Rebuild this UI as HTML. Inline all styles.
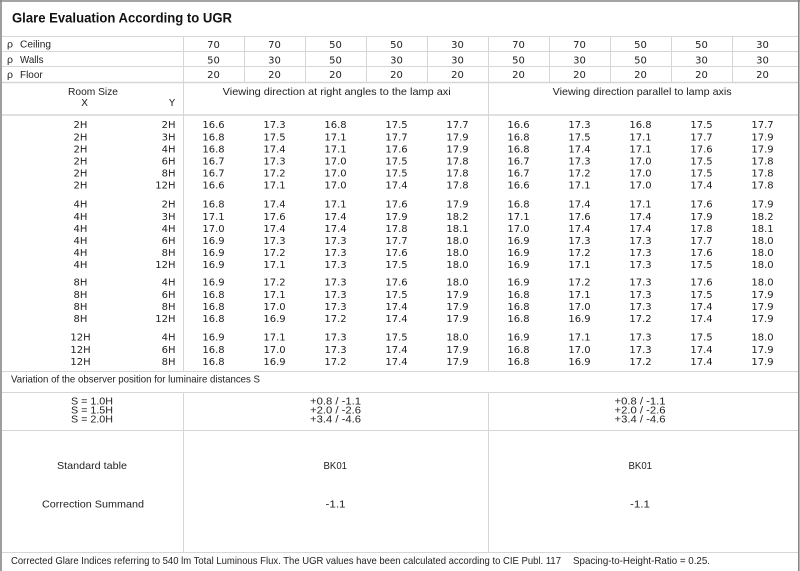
<!DOCTYPE html>
<html>
<head>
<meta charset="utf-8">
<style>
html,body{margin:0;padding:0;background:#fff;}
svg{display:block;}
.l{font-family:"Liberation Sans","DejaVu Sans",sans-serif;font-size:10.5px;fill:#1f1f1f;}
.n{font-family:"DejaVu Sans","Liberation Sans",sans-serif;font-size:10px;fill:#1f1f1f;text-anchor:middle;}
.x{font-family:"DejaVu Sans","Liberation Sans",sans-serif;font-size:10px;fill:#1f1f1f;text-anchor:middle;}
.y{font-family:"DejaVu Sans","Liberation Sans",sans-serif;font-size:10px;fill:#1f1f1f;text-anchor:end;}
</style>
</head>
<body>
<svg width="800" height="571" viewBox="0 0 800 571" xmlns="http://www.w3.org/2000/svg">
<rect width="800" height="571" fill="#fff"/>
<!-- grid -->
<g stroke="#d6d6d6" stroke-width="1" fill="none">
<line x1="2" y1="36.5" x2="798" y2="36.5"/>
<line x1="2" y1="51.5" x2="798" y2="51.5"/>
<line x1="2" y1="66.5" x2="798" y2="66.5"/>
<line x1="2" y1="82.5" x2="798" y2="82.5" stroke-width="1.5"/>
<line x1="2" y1="115" x2="798" y2="115" stroke-width="2" stroke="#e0e0e0"/>
<line x1="2" y1="371.5" x2="798" y2="371.5"/>
<line x1="2" y1="392.5" x2="798" y2="392.5"/>
<line x1="2" y1="430.5" x2="798" y2="430.5"/>
<line x1="2" y1="552.5" x2="798" y2="552.5"/>
<line x1="183.5" y1="36" x2="183.5" y2="371"/>
<line x1="183.5" y1="392" x2="183.5" y2="552"/>
<line x1="488.5" y1="36" x2="488.5" y2="371"/>
<line x1="488.5" y1="392" x2="488.5" y2="552"/>
<line x1="244.5" y1="36" x2="244.5" y2="82"/>
<line x1="305.5" y1="36" x2="305.5" y2="82"/>
<line x1="366.5" y1="36" x2="366.5" y2="82"/>
<line x1="427.5" y1="36" x2="427.5" y2="82"/>
<line x1="549.5" y1="36" x2="549.5" y2="82"/>
<line x1="610.5" y1="36" x2="610.5" y2="82"/>
<line x1="671.5" y1="36" x2="671.5" y2="82"/>
<line x1="732.5" y1="36" x2="732.5" y2="82"/>
</g>
<!-- outer border -->
<g stroke="#858585" stroke-width="1.6">
<line x1="0" y1="1" x2="800" y2="1"/>
<line x1="1" y1="0" x2="1" y2="571"/>
<line x1="798.8" y1="0" x2="798.8" y2="571"/>
</g>

<!-- title -->
<text x="12" y="22.5" font-family="'Liberation Sans','DejaVu Sans',sans-serif" font-weight="bold" font-size="13.5" fill="#111" textLength="220" lengthAdjust="spacingAndGlyphs">Glare Evaluation According to UGR</text>

<!-- reflectance rows -->
<text class="l" x="7" y="47.5">ρ</text>
<text class="l" x="20" y="47.5" textLength="31" lengthAdjust="spacingAndGlyphs">Ceiling</text>
<text class="l" x="7" y="63">ρ</text>
<text class="l" x="20" y="63" textLength="23.5" lengthAdjust="spacingAndGlyphs">Walls</text>
<text class="l" x="7" y="78">ρ</text>
<text class="l" x="20" y="78" textLength="22.7" lengthAdjust="spacingAndGlyphs">Floor</text>

<text class="n" y="47.8"><tspan x="213.5">70</tspan><tspan x="274.5">70</tspan><tspan x="335.5">50</tspan><tspan x="396.5">50</tspan><tspan x="457.5">30</tspan><tspan x="518.5">70</tspan><tspan x="579.5">70</tspan><tspan x="640.5">50</tspan><tspan x="701.5">50</tspan><tspan x="762.5">30</tspan></text>
<text class="n" y="63.3"><tspan x="213.5">50</tspan><tspan x="274.5">30</tspan><tspan x="335.5">50</tspan><tspan x="396.5">30</tspan><tspan x="457.5">30</tspan><tspan x="518.5">50</tspan><tspan x="579.5">30</tspan><tspan x="640.5">50</tspan><tspan x="701.5">30</tspan><tspan x="762.5">30</tspan></text>
<text class="n" y="78"><tspan x="213.5">20</tspan><tspan x="274.5">20</tspan><tspan x="335.5">20</tspan><tspan x="396.5">20</tspan><tspan x="457.5">20</tspan><tspan x="518.5">20</tspan><tspan x="579.5">20</tspan><tspan x="640.5">20</tspan><tspan x="701.5">20</tspan><tspan x="762.5">20</tspan></text>

<!-- header labels -->
<text class="l" x="68" y="95" textLength="50" lengthAdjust="spacingAndGlyphs">Room Size</text>
<text class="x" x="84.5" y="106">X</text>
<text class="x" x="172" y="106">Y</text>
<text class="l" x="222.7" y="95" textLength="228" lengthAdjust="spacingAndGlyphs">Viewing direction at right angles to the lamp axi</text>
<text class="l" x="552.7" y="95" textLength="179" lengthAdjust="spacingAndGlyphs">Viewing direction parallel to lamp axis</text>

<!-- group 1 -->
<text class="x" x="80.5" y="128.2">2H</text><text class="y" x="175.5" y="128.2">2H</text>
<text class="n" y="128.2"><tspan x="213.5">16.6</tspan><tspan x="274.5">17.3</tspan><tspan x="335.5">16.8</tspan><tspan x="396.5">17.5</tspan><tspan x="457.5">17.7</tspan><tspan x="518.5">16.6</tspan><tspan x="579.5">17.3</tspan><tspan x="640.5">16.8</tspan><tspan x="701.5">17.5</tspan><tspan x="762.5">17.7</tspan></text>
<text class="x" x="80.5" y="140.3">2H</text><text class="y" x="175.5" y="140.3">3H</text>
<text class="n" y="140.3"><tspan x="213.5">16.8</tspan><tspan x="274.5">17.5</tspan><tspan x="335.5">17.1</tspan><tspan x="396.5">17.7</tspan><tspan x="457.5">17.9</tspan><tspan x="518.5">16.8</tspan><tspan x="579.5">17.5</tspan><tspan x="640.5">17.1</tspan><tspan x="701.5">17.7</tspan><tspan x="762.5">17.9</tspan></text>
<text class="x" x="80.5" y="152.4">2H</text><text class="y" x="175.5" y="152.4">4H</text>
<text class="n" y="152.4"><tspan x="213.5">16.8</tspan><tspan x="274.5">17.4</tspan><tspan x="335.5">17.1</tspan><tspan x="396.5">17.6</tspan><tspan x="457.5">17.9</tspan><tspan x="518.5">16.8</tspan><tspan x="579.5">17.4</tspan><tspan x="640.5">17.1</tspan><tspan x="701.5">17.6</tspan><tspan x="762.5">17.9</tspan></text>
<text class="x" x="80.5" y="164.5">2H</text><text class="y" x="175.5" y="164.5">6H</text>
<text class="n" y="164.5"><tspan x="213.5">16.7</tspan><tspan x="274.5">17.3</tspan><tspan x="335.5">17.0</tspan><tspan x="396.5">17.5</tspan><tspan x="457.5">17.8</tspan><tspan x="518.5">16.7</tspan><tspan x="579.5">17.3</tspan><tspan x="640.5">17.0</tspan><tspan x="701.5">17.5</tspan><tspan x="762.5">17.8</tspan></text>
<text class="x" x="80.5" y="176.6">2H</text><text class="y" x="175.5" y="176.6">8H</text>
<text class="n" y="176.6"><tspan x="213.5">16.7</tspan><tspan x="274.5">17.2</tspan><tspan x="335.5">17.0</tspan><tspan x="396.5">17.5</tspan><tspan x="457.5">17.8</tspan><tspan x="518.5">16.7</tspan><tspan x="579.5">17.2</tspan><tspan x="640.5">17.0</tspan><tspan x="701.5">17.5</tspan><tspan x="762.5">17.8</tspan></text>
<text class="x" x="80.5" y="188.7">2H</text><text class="y" x="175.5" y="188.7">12H</text>
<text class="n" y="188.7"><tspan x="213.5">16.6</tspan><tspan x="274.5">17.1</tspan><tspan x="335.5">17.0</tspan><tspan x="396.5">17.4</tspan><tspan x="457.5">17.8</tspan><tspan x="518.5">16.6</tspan><tspan x="579.5">17.1</tspan><tspan x="640.5">17.0</tspan><tspan x="701.5">17.4</tspan><tspan x="762.5">17.8</tspan></text>

<!-- group 2 -->
<text class="x" x="80.5" y="207.7">4H</text><text class="y" x="175.5" y="207.7">2H</text>
<text class="n" y="207.7"><tspan x="213.5">16.8</tspan><tspan x="274.5">17.4</tspan><tspan x="335.5">17.1</tspan><tspan x="396.5">17.6</tspan><tspan x="457.5">17.9</tspan><tspan x="518.5">16.8</tspan><tspan x="579.5">17.4</tspan><tspan x="640.5">17.1</tspan><tspan x="701.5">17.6</tspan><tspan x="762.5">17.9</tspan></text>
<text class="x" x="80.5" y="219.8">4H</text><text class="y" x="175.5" y="219.8">3H</text>
<text class="n" y="219.8"><tspan x="213.5">17.1</tspan><tspan x="274.5">17.6</tspan><tspan x="335.5">17.4</tspan><tspan x="396.5">17.9</tspan><tspan x="457.5">18.2</tspan><tspan x="518.5">17.1</tspan><tspan x="579.5">17.6</tspan><tspan x="640.5">17.4</tspan><tspan x="701.5">17.9</tspan><tspan x="762.5">18.2</tspan></text>
<text class="x" x="80.5" y="231.9">4H</text><text class="y" x="175.5" y="231.9">4H</text>
<text class="n" y="231.9"><tspan x="213.5">17.0</tspan><tspan x="274.5">17.4</tspan><tspan x="335.5">17.4</tspan><tspan x="396.5">17.8</tspan><tspan x="457.5">18.1</tspan><tspan x="518.5">17.0</tspan><tspan x="579.5">17.4</tspan><tspan x="640.5">17.4</tspan><tspan x="701.5">17.8</tspan><tspan x="762.5">18.1</tspan></text>
<text class="x" x="80.5" y="244">4H</text><text class="y" x="175.5" y="244">6H</text>
<text class="n" y="244"><tspan x="213.5">16.9</tspan><tspan x="274.5">17.3</tspan><tspan x="335.5">17.3</tspan><tspan x="396.5">17.7</tspan><tspan x="457.5">18.0</tspan><tspan x="518.5">16.9</tspan><tspan x="579.5">17.3</tspan><tspan x="640.5">17.3</tspan><tspan x="701.5">17.7</tspan><tspan x="762.5">18.0</tspan></text>
<text class="x" x="80.5" y="256.1">4H</text><text class="y" x="175.5" y="256.1">8H</text>
<text class="n" y="256.1"><tspan x="213.5">16.9</tspan><tspan x="274.5">17.2</tspan><tspan x="335.5">17.3</tspan><tspan x="396.5">17.6</tspan><tspan x="457.5">18.0</tspan><tspan x="518.5">16.9</tspan><tspan x="579.5">17.2</tspan><tspan x="640.5">17.3</tspan><tspan x="701.5">17.6</tspan><tspan x="762.5">18.0</tspan></text>
<text class="x" x="80.5" y="268.2">4H</text><text class="y" x="175.5" y="268.2">12H</text>
<text class="n" y="268.2"><tspan x="213.5">16.9</tspan><tspan x="274.5">17.1</tspan><tspan x="335.5">17.3</tspan><tspan x="396.5">17.5</tspan><tspan x="457.5">18.0</tspan><tspan x="518.5">16.9</tspan><tspan x="579.5">17.1</tspan><tspan x="640.5">17.3</tspan><tspan x="701.5">17.5</tspan><tspan x="762.5">18.0</tspan></text>

<!-- group 3 -->
<text class="x" x="80.5" y="285.7">8H</text><text class="y" x="175.5" y="285.7">4H</text>
<text class="n" y="285.7"><tspan x="213.5">16.9</tspan><tspan x="274.5">17.2</tspan><tspan x="335.5">17.3</tspan><tspan x="396.5">17.6</tspan><tspan x="457.5">18.0</tspan><tspan x="518.5">16.9</tspan><tspan x="579.5">17.2</tspan><tspan x="640.5">17.3</tspan><tspan x="701.5">17.6</tspan><tspan x="762.5">18.0</tspan></text>
<text class="x" x="80.5" y="297.8">8H</text><text class="y" x="175.5" y="297.8">6H</text>
<text class="n" y="297.8"><tspan x="213.5">16.8</tspan><tspan x="274.5">17.1</tspan><tspan x="335.5">17.3</tspan><tspan x="396.5">17.5</tspan><tspan x="457.5">17.9</tspan><tspan x="518.5">16.8</tspan><tspan x="579.5">17.1</tspan><tspan x="640.5">17.3</tspan><tspan x="701.5">17.5</tspan><tspan x="762.5">17.9</tspan></text>
<text class="x" x="80.5" y="309.9">8H</text><text class="y" x="175.5" y="309.9">8H</text>
<text class="n" y="309.9"><tspan x="213.5">16.8</tspan><tspan x="274.5">17.0</tspan><tspan x="335.5">17.3</tspan><tspan x="396.5">17.4</tspan><tspan x="457.5">17.9</tspan><tspan x="518.5">16.8</tspan><tspan x="579.5">17.0</tspan><tspan x="640.5">17.3</tspan><tspan x="701.5">17.4</tspan><tspan x="762.5">17.9</tspan></text>
<text class="x" x="80.5" y="322">8H</text><text class="y" x="175.5" y="322">12H</text>
<text class="n" y="322"><tspan x="213.5">16.8</tspan><tspan x="274.5">16.9</tspan><tspan x="335.5">17.2</tspan><tspan x="396.5">17.4</tspan><tspan x="457.5">17.9</tspan><tspan x="518.5">16.8</tspan><tspan x="579.5">16.9</tspan><tspan x="640.5">17.2</tspan><tspan x="701.5">17.4</tspan><tspan x="762.5">17.9</tspan></text>

<!-- group 4 -->
<text class="x" x="80.5" y="340.7">12H</text><text class="y" x="175.5" y="340.7">4H</text>
<text class="n" y="340.7"><tspan x="213.5">16.9</tspan><tspan x="274.5">17.1</tspan><tspan x="335.5">17.3</tspan><tspan x="396.5">17.5</tspan><tspan x="457.5">18.0</tspan><tspan x="518.5">16.9</tspan><tspan x="579.5">17.1</tspan><tspan x="640.5">17.3</tspan><tspan x="701.5">17.5</tspan><tspan x="762.5">18.0</tspan></text>
<text class="x" x="80.5" y="352.8">12H</text><text class="y" x="175.5" y="352.8">6H</text>
<text class="n" y="352.8"><tspan x="213.5">16.8</tspan><tspan x="274.5">17.0</tspan><tspan x="335.5">17.3</tspan><tspan x="396.5">17.4</tspan><tspan x="457.5">17.9</tspan><tspan x="518.5">16.8</tspan><tspan x="579.5">17.0</tspan><tspan x="640.5">17.3</tspan><tspan x="701.5">17.4</tspan><tspan x="762.5">17.9</tspan></text>
<text class="x" x="80.5" y="364.9">12H</text><text class="y" x="175.5" y="364.9">8H</text>
<text class="n" y="364.9"><tspan x="213.5">16.8</tspan><tspan x="274.5">16.9</tspan><tspan x="335.5">17.2</tspan><tspan x="396.5">17.4</tspan><tspan x="457.5">17.9</tspan><tspan x="518.5">16.8</tspan><tspan x="579.5">16.9</tspan><tspan x="640.5">17.2</tspan><tspan x="701.5">17.4</tspan><tspan x="762.5">17.9</tspan></text>

<!-- variation section -->
<text class="l" x="11" y="382.5" font-size="10" textLength="249" lengthAdjust="spacingAndGlyphs">Variation of the observer position for luminaire distances S</text>
<text class="l" x="71" y="404.5" font-size="10" textLength="42" lengthAdjust="spacingAndGlyphs">S = 1.0H</text>
<text class="l" x="71" y="413.5" font-size="10" textLength="42" lengthAdjust="spacingAndGlyphs">S = 1.5H</text>
<text class="l" x="71" y="422.5" font-size="10" textLength="42" lengthAdjust="spacingAndGlyphs">S = 2.0H</text>
<text class="l" x="310" y="404.5" font-size="10" textLength="51" lengthAdjust="spacingAndGlyphs">+0.8 / -1.1</text>
<text class="l" x="310" y="413.5" font-size="10" textLength="51" lengthAdjust="spacingAndGlyphs">+2.0 / -2.6</text>
<text class="l" x="310" y="422.5" font-size="10" textLength="51" lengthAdjust="spacingAndGlyphs">+3.4 / -4.6</text>
<text class="l" x="614.5" y="404.5" font-size="10" textLength="51" lengthAdjust="spacingAndGlyphs">+0.8 / -1.1</text>
<text class="l" x="614.5" y="413.5" font-size="10" textLength="51" lengthAdjust="spacingAndGlyphs">+2.0 / -2.6</text>
<text class="l" x="614.5" y="422.5" font-size="10" textLength="51" lengthAdjust="spacingAndGlyphs">+3.4 / -4.6</text>

<text class="l" x="57" y="469" textLength="70" lengthAdjust="spacingAndGlyphs">Standard table</text>
<text class="l" x="323.5" y="469" font-size="11" textLength="23.5" lengthAdjust="spacingAndGlyphs">BK01</text>
<text class="l" x="628.5" y="469" font-size="11" textLength="23.5" lengthAdjust="spacingAndGlyphs">BK01</text>

<text class="l" x="42" y="507.7" textLength="102" lengthAdjust="spacingAndGlyphs">Correction Summand</text>
<text class="l" x="325.5" y="507.7" font-size="11" textLength="20" lengthAdjust="spacingAndGlyphs">-1.1</text>
<text class="l" x="630" y="507.7" font-size="11" textLength="20" lengthAdjust="spacingAndGlyphs">-1.1</text>

<!-- footer -->
<text class="l" x="11" y="564" font-size="10" textLength="550" lengthAdjust="spacingAndGlyphs">Corrected Glare Indices referring to 540 lm Total Luminous Flux. The UGR values have been calculated according to CIE Publ. 117</text>
<text class="l" x="573" y="564" font-size="10" textLength="137" lengthAdjust="spacingAndGlyphs">Spacing-to-Height-Ratio = 0.25.</text>
</svg>
</body>
</html>
